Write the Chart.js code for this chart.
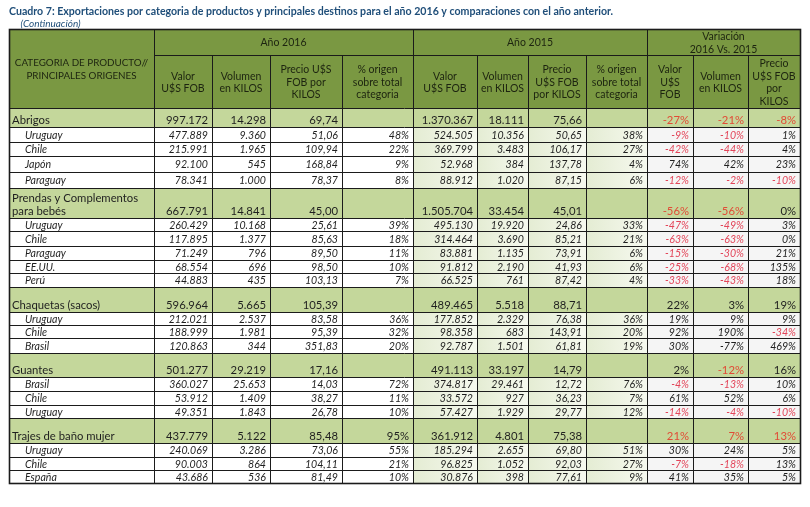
<!DOCTYPE html>
<html><head><meta charset="utf-8">
<script src="https://cdn.jsdelivr.net/npm/chart.js@4/dist/chart.umd.min.js"></script>
<style>html,body{margin:0;padding:0;background:#fff}#wrap{width:810px;height:507px}</style>
</head><body><div id="wrap"><canvas id="c" width="810" height="507"></canvas></div>
<script>
// ---------------- DATA ----------------
const titleText = 'Cuadro 7: Exportaciones por categoria de productos y principales destinos para el año 2016 y comparaciones con el año anterior.';
const subtitleText = '(Continuación)';
const rowLabels = ['Abrigos','Uruguay','Chile','Japón','Paraguay',
  'Prendas y Complementos\npara bebés','Uruguay','Chile','Paraguay','EE.UU.','Perú',
  'Chaquetas (sacos)','Uruguay','Chile','Brasil',
  'Guantes','Brasil','Chile','Uruguay',
  'Trajes de baño mujer','Uruguay','Chile','España'];
const isCategory = [1,0,0,0,0, 1,0,0,0,0,0, 1,0,0,0, 1,0,0,0, 1,0,0,0];
const valor2016 = [997172,477889,215991,92100,78341, 667791,260429,117895,71249,68554,44883, 596964,212021,188999,120863, 501277,360027,53912,49351, 437779,240069,90003,43686];
const vol2016 = [14298,9360,1965,545,1000, 14841,10168,1377,796,696,435, 5665,2537,1981,344, 29219,25653,1409,1843, 5122,3286,864,536];
const precio2016 = [69.74,51.06,109.94,168.84,78.37, 45.00,25.61,85.63,89.50,98.50,103.13, 105.39,83.58,95.39,351.83, 17.16,14.03,38.27,26.78, 85.48,73.06,104.11,81.49];
const pct2016 = [null,48,22,9,8, null,39,18,11,10,7, null,36,32,20, null,72,11,10, 95,55,21,10];
const valor2015 = [1370367,524505,369799,52968,88912, 1505704,495130,314464,83881,91812,66525, 489465,177852,98358,92787, 491113,374817,33572,57427, 361912,185294,96825,30876];
const vol2015 = [18111,10356,3483,384,1020, 33454,19920,3690,1135,2190,761, 5518,2329,683,1501, 33197,29461,927,1929, 4801,2655,1052,398];
const precio2015 = [75.66,50.65,106.17,137.78,87.15, 45.01,24.86,85.21,73.91,41.93,87.42, 88.71,76.38,143.91,61.81, 14.79,12.72,36.23,29.77, 75.38,69.80,92.03,77.61];
const pct2015 = [null,38,27,4,6, null,33,21,6,6,4, null,36,20,19, null,76,7,12, null,51,27,9];
const varValor = [-27,-9,-42,74,-12, -56,-47,-63,-15,-25,-33, 22,19,92,30, 2,-4,61,-14, 21,30,-7,41];
const varVol = [-21,-10,-44,42,-2, -56,-49,-63,-30,-68,-43, 3,9,190,-77, -12,-13,52,-4, 7,24,-18,35];
const varPrecio = [-8,1,4,23,-10, 0,3,0,21,135,18, 19,9,-34,469, 16,10,6,-10, 13,5,13,5];
const groupHeaders = ['Año 2016','Año 2015','Variación\n2016 Vs. 2015'];
const firstHeader = 'CATEGORIA DE PRODUCTO//\nPRINCIPALES ORIGENES';
const colHeaders = ['Valor\nU$S FOB','Volumen\nen KILOS','Precio U$S\nFOB por\nKILOS','% origen\nsobre total\ncategoria',
  'Valor\nU$S FOB','Volumen\nen KILOS','Precio\nU$S FOB\npor KILOS','% origen\nsobre total\ncategoria',
  'Valor\nU$S\nFOB','Volumen\nen KILOS','Precio\nU$S FOB\npor\nKILOS'];

// ---------------- LAYOUT / STYLE ----------------
const colEdges = [9,154,212,270,342,413,477,528,586,647,693,748,800];
const headTop = 29, headMid = 55, headBottom = 108;
const rowEdges = [108,127,142,156,172,188,218,231,246,260,273,287,312,325,338,353,377,391,405,418,443,457,470,483];
const C = { head:'#7A9842', cat:'#C4D79B', green0:'#E4ECD3', green1:'#F6F9EF', grey:'#F5F5F5', line:'#1b1b1b', text:'#1f1f1f', headText:'#1d2410', redCat:'#E14B36', redSub:'#E3465A', title:'#1F4E79' };
const FONT = 'Lato';
// style exceptions for variation colours (cells printed red / black as in the source)
const forceBlack = [[14,1]];          // [row, varColumnIndex]
const forceRed = [[19,0],[19,1],[19,2]];

const fmtInt = n => String(n).replace(/\B(?=(\d{3})+(?!\d))/g, '.');
const fmtDec = n => n.toFixed(2).replace('.', ',');
const fmtPct = n => n + '%';
const columns = [
  [valor2016, fmtInt],[vol2016, fmtInt],[precio2016, fmtDec],[pct2016, fmtPct],
  [valor2015, fmtInt],[vol2015, fmtInt],[precio2015, fmtDec],[pct2015, fmtPct],
  [varValor, fmtPct],[varVol, fmtPct],[varPrecio, fmtPct]
];

const tablePlugin = {
  id: 'tableDraw',
  afterDraw(chart) {
    const ctx = chart.ctx;
    const sx = chart.scales.x, sy = chart.scales.y;
    const X = v => sx.getPixelForValue(v), Y = v => sy.getPixelForValue(v);
    const rect = (x0, y0, x1, y1, fill) => { ctx.fillStyle = fill; ctx.fillRect(X(x0), Y(y0), X(x1) - X(x0), Y(y1) - Y(y0)); };
    const L = colEdges[0], R = colEdges[colEdges.length - 1];
    ctx.save();
    rect(L, headTop, R, headBottom, C.head);
    for (let r = 0; r < rowLabels.length; r++) {
      const y0 = rowEdges[r], y1 = rowEdges[r + 1];
      if (isCategory[r]) { rect(L, y0, R, y1, C.cat); continue; }
      rect(L, y0, colEdges[5], y1, '#FFFFFF');
      for (let c = 5; c < 9; c++) {
        const g = ctx.createLinearGradient(X(colEdges[c]), 0, X(colEdges[c + 1]), 0);
        g.addColorStop(0, C.green0); g.addColorStop(1, C.green1);
        rect(colEdges[c], y0, colEdges[c + 1], y1, g);
      }
      rect(colEdges[9], y0, R, y1, C.grey);
    }
    ctx.strokeStyle = C.line; ctx.lineWidth = 1;
    const hline = (x0, x1, y) => { const py = Math.round(Y(y)) + 0.5; ctx.beginPath(); ctx.moveTo(X(x0), py); ctx.lineTo(X(x1), py); ctx.stroke(); };
    const vline = (x, y0, y1) => { const px = Math.round(X(x)) + 0.5; ctx.beginPath(); ctx.moveTo(px, Y(y0)); ctx.lineTo(px, Y(y1)); ctx.stroke(); };
    hline(L, R, headTop);
    hline(colEdges[1], R, headMid);
    rowEdges.forEach(y => hline(L, R, y));
    const bottom = rowEdges[rowEdges.length - 1];
    colEdges.forEach((x, i) => vline(x, [0,1,5,9,12].includes(i) ? headTop : headMid, bottom));
    ctx.lineWidth = 1.6;
    ctx.strokeRect(Math.round(X(L)) + 0.5, Math.round(Y(headTop)) + 0.5, Math.round(X(R)) - Math.round(X(L)), Math.round(Y(bottom)) - Math.round(Y(headTop)));

    ctx.fillStyle = C.headText; ctx.textAlign = 'center'; ctx.textBaseline = 'middle';
    const multi = (txt, cx, cy, lh) => { const ls = txt.split('\n'); ls.forEach((s, i) => ctx.fillText(s, cx, cy + (i - (ls.length - 1) / 2) * lh)); };
    ctx.font = `9.8px ${FONT}`;
    multi(firstHeader, (X(colEdges[0]) + X(colEdges[1])) / 2, (Y(headTop) + Y(headBottom)) / 2 + 1, 13);
    ctx.font = `10.5px ${FONT}`;
    const groups = [[1,5],[5,9],[9,12]];
    groups.forEach((g, i) => multi(groupHeaders[i], (X(colEdges[g[0]]) + X(colEdges[g[1]])) / 2, (Y(headTop) + Y(headMid)) / 2 + 1, 12.5));
    colHeaders.forEach((h, i) => multi(h, (X(colEdges[i + 1]) + X(colEdges[i + 2])) / 2, (Y(headMid) + Y(headBottom)) / 2 + 1, 12.5));

    for (let r = 0; r < rowLabels.length; r++) {
      const y0 = Y(rowEdges[r]), y1 = Y(rowEdges[r + 1]);
      const cat = !!isCategory[r];
      const ty = cat ? y1 - 3.5 : (y0 + y1) / 2 + 4;
      ctx.textBaseline = 'alphabetic';
      ctx.font = cat ? `11.3px ${FONT}` : `italic 10.6px ${FONT}`;
      ctx.fillStyle = C.text; ctx.textAlign = 'left';
      const lines = rowLabels[r].split('\n');
      lines.forEach((s, i) => ctx.fillText(s, X(colEdges[0]) + (cat ? 3 : 16), ty - (lines.length - 1 - i) * 13));
      ctx.textAlign = 'right';
      columns.forEach(([vals, fmt], c) => {
        const v = vals[r];
        if (v === null || v === undefined) return;
        let color = C.text;
        if (c >= 8) {
          const vc = c - 8;
          let red = v < 0;
          if (forceBlack.some(([rr, cc]) => rr === r && cc === vc)) red = false;
          if (forceRed.some(([rr, cc]) => rr === r && cc === vc)) red = true;
          if (red) color = cat ? C.redCat : C.redSub;
        }
        ctx.fillStyle = color;
        ctx.fillText(fmt(v), X(colEdges[c + 2]) - 4, ty);
      });
    }
    ctx.restore();
  }
};

function build() {
  new Chart(document.getElementById('c'), {
    type: 'scatter',
    data: { datasets: [{ data: [], pointRadius: 0 }] },
    options: {
      responsive: false, animation: false, devicePixelRatio: 1,
      layout: { padding: { left: 9, right: 10, top: 0, bottom: 0 } },
      scales: {
        x: { type: 'linear', min: 9, max: 800, display: false },
        y: { type: 'linear', min: 29, max: 507, reverse: true, display: false }
      },
      plugins: {
        legend: { display: false }, tooltip: { enabled: false },
        title: { display: true, text: titleText, align: 'start', color: C.title,
          font: { family: FONT, size: 10.6, weight: 'bold', lineHeight: 1.2 }, padding: { top: 5, bottom: 0 } },
        subtitle: { display: true, text: '\u2003\u2002' + subtitleText, align: 'start', color: C.title,
          font: { family: FONT, size: 10, style: 'italic', lineHeight: 1.13 }, padding: { top: 0, bottom: 0 } }
      }
    },
    plugins: [tablePlugin]
  });
}
(document.fonts && document.fonts.load ? Promise.all([document.fonts.load('10px Lato'), document.fonts.load('bold 10px Lato'), document.fonts.load('italic 10px Lato')]) : Promise.resolve()).then(build, build);
</script></body></html>
